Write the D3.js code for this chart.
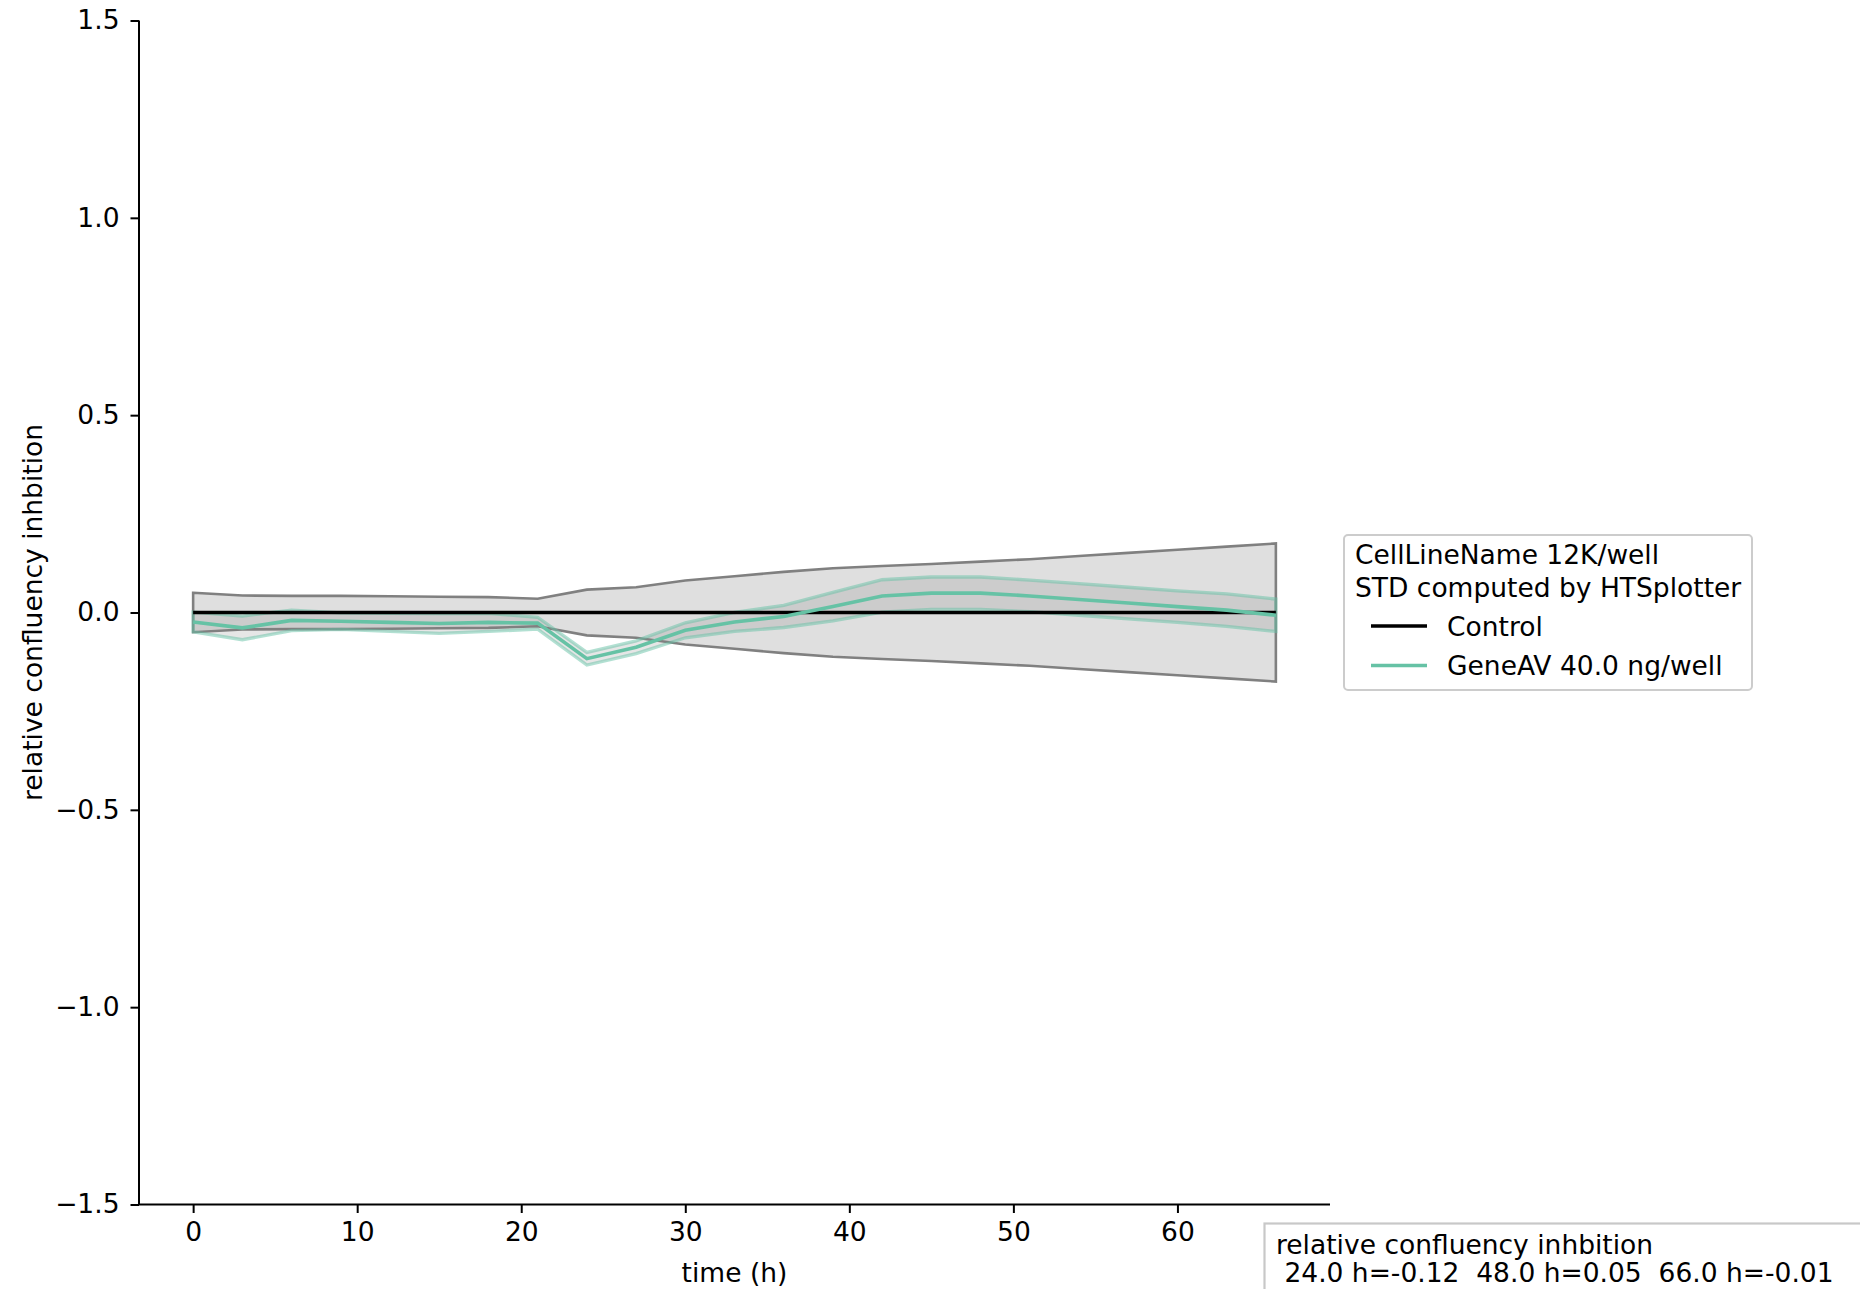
<!DOCTYPE html>
<html>
<head>
<meta charset="utf-8">
<script src="https://cdn.jsdelivr.net/npm/d3@7"></script>
<style>
  html, body { margin: 0; padding: 0; background: #fff; }
  svg text { font-family: "DejaVu Sans", sans-serif; fill: #000; }
</style>
</head>
<body>
<svg id="chart" width="1860" height="1289"></svg>
<script>
// ---- data ----
const times = [0, 3, 6, 9, 12, 15, 18, 21, 24, 27, 30, 33, 36, 39, 42, 45, 48, 51, 54, 57, 60, 63, 66];
const controlMean = [0, 0, 0, 0, 0, 0, 0, 0, 0, 0, 0, 0, 0, 0, 0, 0, 0, 0, 0, 0, 0, 0, 0];
const controlStd = [0.050, 0.043, 0.042, 0.042, 0.041, 0.040, 0.039, 0.035, 0.058, 0.064, 0.081, 0.092, 0.103, 0.112, 0.118, 0.123, 0.129, 0.135, 0.143, 0.151, 0.159, 0.167, 0.175];
const geneMean = [-0.024, -0.039, -0.020, -0.022, -0.025, -0.028, -0.025, -0.027, -0.117, -0.088, -0.045, -0.024, -0.010, 0.015, 0.042, 0.049, 0.049, 0.042, 0.033, 0.024, 0.015, 0.006, -0.007];
const geneStd = [0.025, 0.030, 0.026, 0.021, 0.023, 0.025, 0.023, 0.015, 0.016, 0.016, 0.019, 0.024, 0.028, 0.036, 0.041, 0.041, 0.041, 0.040, 0.040, 0.040, 0.040, 0.041, 0.041];
const seriesNames = ["Control", "GeneAV 40.0 ng/well"];
const legendTitle = ["CellLineName 12K/well", "STD computed by HTSplotter"];
const xTicks = [0, 10, 20, 30, 40, 50, 60];
const yTicks = [-1.5, -1.0, -0.5, 0.0, 0.5, 1.0, 1.5];
const infoLines = ["relative confluency inhbition", " 24.0 h=-0.12  48.0 h=0.05  66.0 h=-0.01"];

(function () {
const FS = 26.5;
const svg = d3.select("#chart");
const pL = 139, pR = 1330, pT = 20.5, pB = 1204.5;
const x = d3.scaleLinear().domain([-3.3, 69.3]).range([pL, pR]);
const y = d3.scaleLinear().domain([-1.5, 1.5]).range([pB, pT]);
const teal = "#66c2a5";

const g = svg.append("g");

const ctrlData = times.map((t, i) => ({t, m: controlMean[i], s: controlStd[i]}));
const geneData = times.map((t, i) => ({t, m: geneMean[i], s: geneStd[i]}));

const area = d3.area().x(d => x(d.t)).y0(d => y(d.m - d.s)).y1(d => y(d.m + d.s));
const line = d3.line().x(d => x(d.t)).y(d => y(d.m));

g.append("path").datum(ctrlData).attr("d", area)
  .attr("fill", "#808080").attr("fill-opacity", 0.25)
  .attr("stroke", "#808080").attr("stroke-width", 2.6);

g.append("path").datum(geneData).attr("d", area)
  .attr("fill", "#808080").attr("fill-opacity", 0.2)
  .attr("stroke", teal).attr("stroke-opacity", 0.5).attr("stroke-width", 3.3);

g.append("path").datum(ctrlData).attr("d", line)
  .attr("fill", "none").attr("stroke", "#000").attr("stroke-width", 3.6);

g.append("path").datum(geneData).attr("d", line)
  .attr("fill", "none").attr("stroke", teal).attr("stroke-width", 3.6);

// axes
const xAxis = d3.axisBottom(x).tickValues(xTicks).tickSize(8.5).tickPadding(9).tickFormat(d3.format("d"));
const yAxis = d3.axisLeft(y).tickValues(yTicks).tickSize(8.5).tickPadding(11)
  .tickFormat(d => d3.format(".1f")(d).replace("-", "\u2212"));

const gx = svg.append("g").attr("transform", `translate(0,${pB})`).call(xAxis);
const gy = svg.append("g").attr("transform", `translate(${pL},0)`).call(yAxis);
[gx, gy].forEach(a => {
  a.select(".domain").attr("stroke", "#000").attr("stroke-width", 2);
  a.selectAll(".tick line").attr("stroke", "#000").attr("stroke-width", 2);
  a.selectAll(".tick text").attr("font-size", FS).attr("font-family", "DejaVu Sans").attr("fill", "#000");
});
gx.select(".domain").attr("d", `M${pL},0H${pR}`);
gy.select(".domain").attr("d", `M0,${pT}V${pB}`);

// axis labels
svg.append("text").attr("x", (pL + pR) / 2).attr("y", 1282)
  .attr("text-anchor", "middle").attr("font-size", FS).text("time (h)");
svg.append("text").attr("transform", `translate(42,${(pT + pB) / 2}) rotate(-90)`)
  .attr("text-anchor", "middle").attr("font-size", FS).text("relative confluency inhbition");

// legend
const lg = svg.append("g");
lg.append("rect").attr("x", 1344).attr("y", 535).attr("width", 408).attr("height", 155)
  .attr("rx", 4).attr("fill", "#fff").attr("fill-opacity", 0.8)
  .attr("stroke", "#cccccc").attr("stroke-width", 2);
legendTitle.forEach((t, i) => {
  lg.append("text").attr("x", 1355).attr("y", 564 + i * 33).attr("font-size", FS).text(t);
});
const legColors = ["#000", teal];
seriesNames.forEach((n, i) => {
  const yy = 626 + i * 39.5;
  lg.append("line").attr("x1", 1371).attr("x2", 1427).attr("y1", yy).attr("y2", yy)
    .attr("stroke", legColors[i]).attr("stroke-width", 3.6);
  lg.append("text").attr("x", 1447).attr("y", yy + 9.8).attr("font-size", FS).text(n);
});

// info box (bottom right, clipped by figure edge)
const ib = svg.append("g");
ib.append("rect").attr("x", 1264.5).attr("y", 1223.5).attr("width", 640).attr("height", 100)
  .attr("fill", "#fff").attr("stroke", "#c8c8c8").attr("stroke-width", 2.2);
infoLines.forEach((t, i) => {
  ib.append("text").attr("x", 1276).attr("y", 1254 + i * 28).attr("font-size", FS)
    .attr("xml:space", "preserve").style("white-space", "pre").text(t);
});
})();
</script>
</body>
</html>
